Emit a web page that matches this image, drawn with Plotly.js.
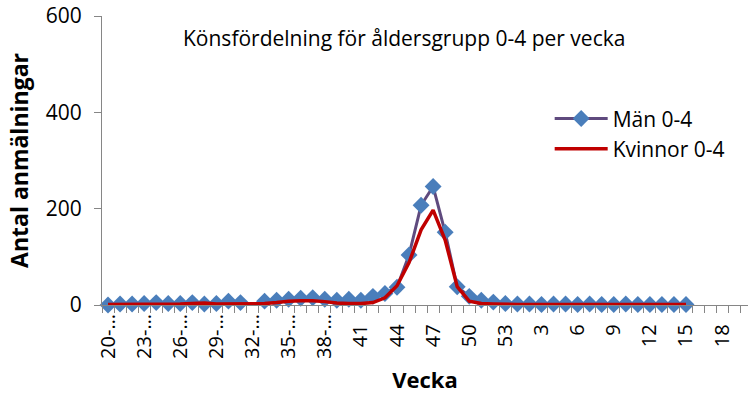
<!DOCTYPE html>
<html>
<head>
<meta charset="utf-8">
<script src="https://cdn.plot.ly/plotly-3.0.1.min.js"></script>
<style>html,body{margin:0;padding:0;background:#fff;}#chart{width:748px;height:400px;}</style>
</head>
<body>
<div id="chart"></div>
<script>
// Week numbers (categories), season 2009/2010
const weeks = [20,21,22,23,24,25,26,27,28,29,30,31,32,33,34,35,36,37,38,39,40,41,42,43,44,45,46,47,48,49,50,51,52,53,
               1,2,3,4,5,6,7,8,9,10,11,12,13,14,15,16,17,18,19,20];
// Tick labels shown every third week (early labels are truncated in the original)
const tickLabels = ["20-…","23-…","26-…","29-…","32-…","35-…","38-…","41","44","47","50","53","3","6","9","12","15","18"];
// Män 0-4
const men = [0,2,2,3,5,3,3,5,2,3,8,5,null,8,10,12,14,15,12,10,12,10,18,24,37,104,207,246,151,38,18,10,6,3,
             2,2,1,2,2,1,2,1,1,2,1,1,1,1,1,null,null,null,null,null];
// Kvinnor 0-4
const women = [1,1,1,1,1,1,2,3,4,2,2,3,3,3,5,8,9,9,7,4,3,3,5,15,40,88,156,197,135,38,8,3,2,1,
               1,1,1,1,1,1,1,1,1,1,1,1,1,1,1,null,null,null,null,null];

const idx = weeks.map((w,i)=>i);
const tickIdx = tickLabels.map((t,k)=>k*3);
const boundaries = weeks.map((w,i)=>i-0.5).concat([weeks.length-0.5]);
const pad = s => /…/.test(s) ? s : s + "\u00a0\u00a0";

const FONT = "Open Sans, sans-serif";
const data = [
  {x: idx, y: men, name: "Män 0-4", type: "scatter", mode: "lines+markers",
   line: {color: "#5F4A7E", width: 3}, connectgaps: false, cliponaxis: false,
   marker: {symbol: "diamond", size: 13, color: "#4A7EBB", line: {width: 0}}, legendgroup: "a"},
  {x: idx, y: women, name: "Kvinnor 0-4", type: "scatter", mode: "lines",
   line: {color: "#C00000", width: 3.5}, connectgaps: false, cliponaxis: false, legendgroup: "b"}
];
const layout = {
  width: 748, height: 400,
  margin: {l: 102, r: 0, t: 16, b: 95},
  paper_bgcolor: "#fff", plot_bgcolor: "#fff",
  font: {family: FONT, size: 20, color: "#000"},
  showlegend: true,
  legend: {x: 0.693, y: 0.715, xanchor: "left", yanchor: "top", bgcolor: "rgba(0,0,0,0)",
           font: {family: FONT, size: 21, color: "#000"}, itemwidth: 53, tracegroupgap: 0},
  xaxis: {range: [-0.5, 53.15], tickmode: "array", tickvals: tickIdx, ticktext: tickLabels.map(pad),
          tickangle: -90, ticks: "", showline: true, linecolor: "#868686", linewidth: 1,
          showgrid: false, zeroline: false, tickfont: {family: FONT, size: 20},
          minor: {tickmode: "array", tickvals: boundaries, ticks: "outside", ticklen: 7, tickcolor: "#868686", showgrid: false},
          title: {text: "<b>Vecka</b>", font: {family: FONT, size: 22}, standoff: 14}},
  yaxis: {range: [0, 600], tickmode: "array", tickvals: [0,200,400,600], ticks: "outside", ticklen: 7,
          tickcolor: "#868686", showline: true, linecolor: "#868686", linewidth: 1, showgrid: false,
          zeroline: false, tickfont: {family: FONT, size: 21}, ticklabelstandoff: 8,
          title: {text: "<b>Antal anmälningar</b>", font: {family: FONT, size: 23}, standoff: 10}},
  annotations: [{text: "Könsfördelning för åldersgrupp 0-4 per vecka", xref: "paper", yref: "paper",
                 x: 0.4675, y: 0.924, xanchor: "center", yanchor: "middle", showarrow: false,
                 font: {family: FONT, size: 21, color: "#000"}}]
};
Plotly.newPlot("chart", data, layout, {staticPlot: true});
</script>
</body>
</html>
